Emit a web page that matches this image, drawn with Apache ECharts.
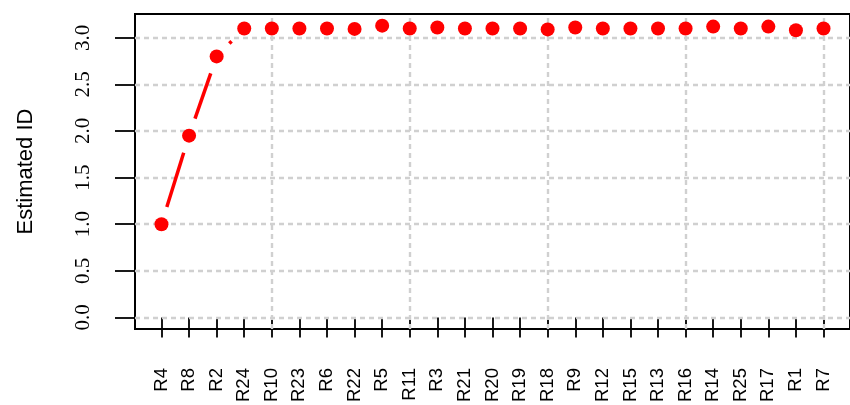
<!DOCTYPE html>
<html>
<head>
<meta charset="utf-8">
<script src="https://cdn.jsdelivr.net/npm/echarts@6/dist/echarts.min.js"></script>
<style>
  html, body { margin: 0; padding: 0; background: #ffffff; }
  #chart { width: 850px; height: 405px; }
</style>
</head>
<body>
<div id="chart"></div>
<script>
// Region labels in plotting order
const categories = ['R4', 'R8', 'R2', 'R24', 'R10', 'R23', 'R6', 'R22', 'R5', 'R11', 'R3', 'R21', 'R20',
  'R19', 'R18', 'R9', 'R12', 'R15', 'R13', 'R16', 'R14', 'R25', 'R17', 'R1', 'R7'];

// Estimated intrinsic dimension for each region
const estimatedID = [1.00, 1.95, 2.80, 3.10, 3.10, 3.10, 3.10, 3.095, 3.13, 3.10, 3.11, 3.10, 3.10,
  3.10, 3.09, 3.11, 3.10, 3.10, 3.10, 3.10, 3.12, 3.10, 3.12, 3.08, 3.10];

// Y tick values and positions of the vertical guide lines
const yTicks = [0, 0.5, 1.0, 1.5, 2.0, 2.5, 3.0];
const xGuides = [5, 10, 15, 20, 25];

const xPos = categories.map((c, i) => i + 1);
const points = estimatedID.map((v, i) => [i + 1, v]);
const segments = estimatedID.slice(1).map((v, i) => [i + 1, estimatedID[i], i + 2, v]);

const chart = echarts.init(document.getElementById('chart'), null, { renderer: 'canvas' });

const guideStyle = { color: '#d0d0d0', type: [5, 4], width: 2.4, opacity: 1 };
const guides = xGuides.map(v => ({ xAxis: v, lineStyle: guideStyle }))
  .concat(yTicks.map(v => ({ yAxis: v, lineStyle: guideStyle })));

chart.setOption({
  animation: false,
  backgroundColor: '#ffffff',
  grid: {
    left: 135, right: -7, top: 14, bottom: 72,
    show: true, borderColor: '#000000', borderWidth: 2, backgroundColor: 'transparent'
  },
  xAxis: {
    type: 'value',
    min: 0.04, max: 25.96,
    axisLine: { show: false },
    splitLine: { show: false },
    axisTick: {
      show: true, length: 20, customValues: xPos,
      lineStyle: { color: '#000000', width: 1.8 }
    },
    axisLabel: {
      customValues: xPos,
      rotate: 90, margin: 39,
      formatter: v => categories[Math.round(v) - 1],
      fontFamily: "'Liberation Sans', Arial, sans-serif", fontSize: 18.5, color: '#000000'
    }
  },
  yAxis: {
    type: 'value',
    min: -0.125, max: 3.255,
    name: 'Estimated ID',
    nameLocation: 'middle',
    nameGap: 98,
    nameTextStyle: { fontFamily: "'Liberation Sans', Arial, sans-serif", fontSize: 22, color: '#000000' },
    axisLine: { show: false },
    splitLine: { show: false },
    axisTick: {
      show: true, length: 20, customValues: yTicks,
      lineStyle: { color: '#000000', width: 1.8 }
    },
    axisLabel: {
      customValues: yTicks,
      rotate: 90, margin: 41,
      formatter: v => v.toFixed(1),
      fontFamily: "'Liberation Serif', 'Times New Roman', serif", fontSize: 21, color: '#000000'
    }
  },
  series: [
    {
      // dashed guide grid, kept beneath the data
      type: 'line',
      data: [],
      z: 1,
      silent: true,
      markLine: {
        z: 1,
        silent: true,
        animation: false,
        symbol: ['none', 'none'],
        label: { show: false },
        lineStyle: guideStyle,
        emphasis: { disabled: true },
        data: guides
      }
    },
    {
      // connecting segments, cut back around each point
      type: 'custom',
      z: 2,
      silent: true,
      data: segments,
      encode: { x: [0, 2], y: [1, 3] },
      renderItem: function (params, api) {
        const p1 = api.coord([api.value(0), api.value(1)]);
        const p2 = api.coord([api.value(2), api.value(3)]);
        const dx = p2[0] - p1[0];
        const dy = p2[1] - p1[1];
        const len = Math.sqrt(dx * dx + dy * dy);
        const gap = 18;
        if (len <= 2 * gap) {
          return { type: 'group', children: [] };
        }
        const ux = dx / len, uy = dy / len;
        return {
          type: 'line',
          shape: {
            x1: p1[0] + ux * gap, y1: p1[1] + uy * gap,
            x2: p2[0] - ux * gap, y2: p2[1] - uy * gap
          },
          style: { stroke: '#ff0000', lineWidth: 3.5, lineCap: 'butt' }
        };
      }
    },
    {
      type: 'scatter',
      z: 3,
      data: points,
      symbol: 'circle',
      symbolSize: 14,
      itemStyle: { color: '#ff0000', opacity: 1 }
    }
  ]
});
</script>
</body>
</html>
